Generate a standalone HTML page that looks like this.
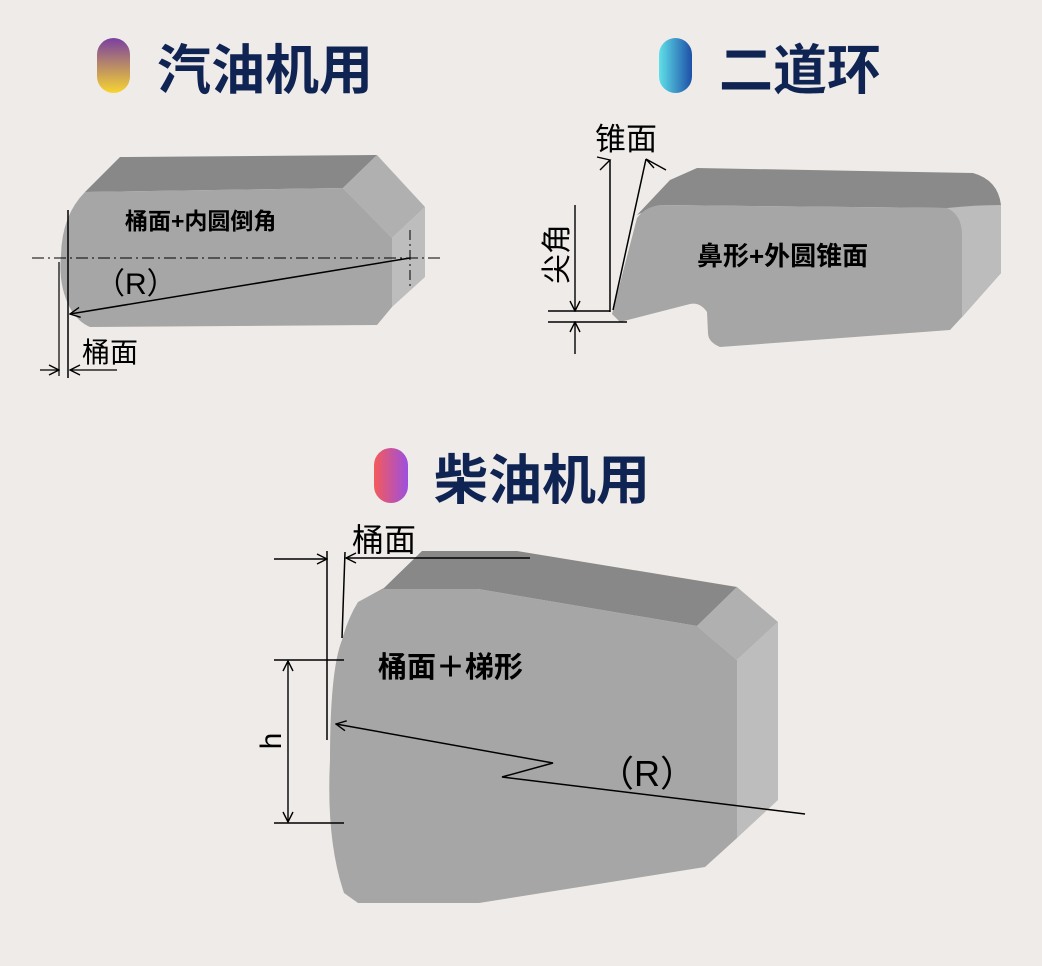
<!DOCTYPE html>
<html><head><meta charset="utf-8"><style>
html,body{margin:0;padding:0;background:#efebe8;}
svg{display:block}
.t{font-family:"Liberation Sans","Noto Sans CJK SC",sans-serif;}
</style></head><body>
<svg width="1042" height="966" viewBox="0 0 1042 966" xmlns="http://www.w3.org/2000/svg" class="t">
<defs>
<linearGradient id="g1" x1="0" y1="0" x2="0" y2="1"><stop offset="0" stop-color="#7a3fa0"/><stop offset="1" stop-color="#f7d531"/></linearGradient>
<linearGradient id="g2" x1="0" y1="0" x2="1" y2="0"><stop offset="0" stop-color="#5fe0e8"/><stop offset="1" stop-color="#1d4fa8"/></linearGradient>
<linearGradient id="g3" x1="0" y1="0" x2="1" y2="0"><stop offset="0" stop-color="#f55a5a"/><stop offset="1" stop-color="#9c4fe0"/></linearGradient>
<marker id="ar" viewBox="0 0 12 12" refX="11" refY="6" markerWidth="12" markerHeight="12" markerUnits="userSpaceOnUse" orient="auto"><path d="M1,1 L11,6 L1,11" fill="none" stroke="#000" stroke-width="1.4"/></marker>
</defs>
<rect width="1042" height="966" fill="#efebe8"/>

<!-- titles -->
<rect x="97" y="38" width="33" height="55" rx="16.5" fill="url(#g1)"/>
<text x="157" y="89" font-size="54" font-weight="bold" fill="#0f2452">汽油机用</text>
<rect x="659" y="38" width="33" height="55" rx="16.5" fill="url(#g2)"/>
<text x="719" y="89" font-size="54" font-weight="bold" fill="#0f2452">二道环</text>
<rect x="374" y="448" width="34" height="55" rx="17" fill="url(#g3)"/>
<text x="434" y="499" font-size="54" font-weight="bold" fill="#0f2452">柴油机用</text>

<!-- shape 1 -->
<polygon points="85,192 120,157 377,155 343,188" fill="#888"/>
<polygon points="343,188 377,155 425,207 392,238" fill="#b0b0b0"/>
<polygon points="392,238 425,207 425,277 392,307" fill="#bdbdbd"/>
<path d="M85,192 L343,188 L392,238 L392,307 L377,325 L90,327 Q78,322 70,308 Q58,285 61,255 Q62,215 85,192 Z" fill="#a6a6a6"/>
<line x1="32" y1="258" x2="440" y2="258" stroke="#000" stroke-width="1" stroke-dasharray="12,4,2,4"/>
<line x1="410" y1="230" x2="410" y2="288" stroke="#000" stroke-width="1" stroke-dasharray="10,4,2,4"/>
<line x1="68" y1="210" x2="68" y2="378" stroke="#000" stroke-width="1.5"/>
<line x1="59" y1="262" x2="59" y2="376" stroke="#000" stroke-width="1.2"/>
<line x1="40" y1="370" x2="59" y2="370" stroke="#000" stroke-width="1.2" marker-end="url(#ar)"/>
<line x1="117" y1="370" x2="70" y2="370" stroke="#000" stroke-width="1.2" marker-end="url(#ar)"/>
<line x1="410" y1="258" x2="70" y2="314" stroke="#000" stroke-width="1.5" marker-end="url(#ar)"/>
<text x="95" y="294" font-size="30" fill="#000">（R）</text>
<text x="125" y="229" font-size="23" font-weight="bold" fill="#000">桶面+内圆倒角</text>
<text x="82" y="362" font-size="28" fill="#000">桶面</text>

<!-- shape 2 -->
<path d="M637,215 L670,180 L697,168 L973,173 Q998,180 1001,205 L1001,273 L962,317 L962,235 Q958,212 947,208 L660,205 Z" fill="#8a8a8a"/>
<path d="M947,208 Q975,205 1001,205 L1001,273 L962,317 L962,235 Q958,212 947,208 Z" fill="#bcbcbc"/>
<path d="M660,205 L947,208 Q962,215 962,235 L962,317 L950,330 L720,347 Q708,342 708,333 L707,312 Q700,302 690,304 L620,322 L612,314 L637,218 Q645,207 660,205 Z" fill="#a6a6a6"/>
<line x1="610" y1="160" x2="610" y2="312" stroke="#000" stroke-width="1.5"/>
<polyline points="597,157 610,160 600,170" fill="none" stroke="#000" stroke-width="1.4"/>
<line x1="613" y1="310" x2="646" y2="159" stroke="#000" stroke-width="1.5"/>
<polyline points="654,168 646,159 666,170" fill="none" stroke="#000" stroke-width="1.4"/>
<line x1="548" y1="311" x2="610" y2="311" stroke="#000" stroke-width="1.5"/>
<line x1="548" y1="322" x2="627" y2="322" stroke="#000" stroke-width="1.5"/>
<line x1="575" y1="205" x2="575" y2="311" stroke="#000" stroke-width="1.4" marker-end="url(#ar)"/>
<line x1="575" y1="354" x2="575" y2="322" stroke="#000" stroke-width="1.4" marker-end="url(#ar)"/>
<text x="595" y="150" font-size="31" fill="#000">锥面</text>
<text transform="translate(567,254) rotate(-90)" font-size="30" fill="#000" text-anchor="middle">尖角</text>
<text x="697" y="265" font-size="26" font-weight="bold" fill="#000">鼻形+外圆锥面</text>

<!-- shape 3 -->
<polygon points="358,602 384,588 422,551 517,551 737,587 697,626 478,589 384,589" fill="#888"/>
<polygon points="697,626 737,587 778,622 737,660" fill="#b0b0b0"/>
<polygon points="737,660 778,622 778,800 737,838" fill="#bdbdbd"/>
<path d="M358,602 L384,589 L478,589 L697,626 L737,660 L737,838 L705,867 L479,903 L358,903 L344,893 Q326,840 330,760 Q330,670 342,640 Q348,618 358,602 Z" fill="#a6a6a6"/>
<line x1="327" y1="551" x2="327" y2="740" stroke="#000" stroke-width="1.5"/>
<line x1="345" y1="552" x2="342" y2="638" stroke="#000" stroke-width="1.5"/>
<line x1="274" y1="559" x2="327" y2="559" stroke="#000" stroke-width="1.4" marker-end="url(#ar)"/>
<line x1="530" y1="558" x2="346" y2="558" stroke="#000" stroke-width="1.4" marker-end="url(#ar)"/>
<line x1="274" y1="660" x2="344" y2="660" stroke="#000" stroke-width="1.5"/>
<line x1="274" y1="823" x2="344" y2="823" stroke="#000" stroke-width="1.5"/>
<line x1="288" y1="680" x2="288" y2="661" stroke="#000" stroke-width="1.4" marker-end="url(#ar)"/>
<line x1="288" y1="680" x2="288" y2="822" stroke="#000" stroke-width="1.4" marker-end="url(#ar)"/>
<polyline points="805,814 502,777 553,763 336,724" fill="none" stroke="#000" stroke-width="1.5" marker-end="url(#ar)"/>
<text transform="translate(281,741) rotate(-90)" font-size="30" fill="#000" text-anchor="middle">h</text>
<text x="352" y="551" font-size="32" fill="#000">桶面</text>
<text x="378" y="677" font-size="29" font-weight="bold" fill="#000">桶面＋梯形</text>
<text x="598" y="786" font-size="36" fill="#000">（R）</text>
</svg>
</body></html>
